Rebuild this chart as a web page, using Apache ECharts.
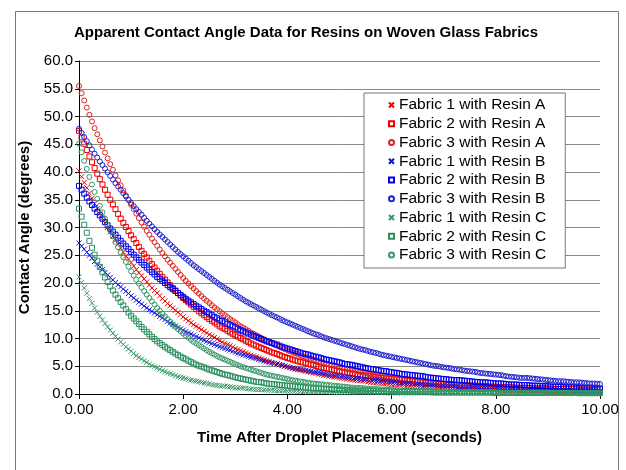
<!DOCTYPE html>
<html>
<head>
<meta charset="utf-8">
<script src="https://cdn.jsdelivr.net/npm/echarts@6/dist/echarts.min.js"></script>
<style>
html,body{margin:0;padding:0;background:#fff;}
#chart{width:626px;height:470px;}
</style>
</head>
<body>
<div id="chart"></div>
<script>
// Time axis (seconds), one reading every 0.05 s
const TIME = [];
for (let i = 0; i <= 200; i++) TIME.push(i / 20);

const SERIES_NAMES = [
  'Fabric 1 with Resin A','Fabric 2 with Resin A','Fabric 3 with Resin A',
  'Fabric 1 with Resin B','Fabric 2 with Resin B','Fabric 3 with Resin B',
  'Fabric 1 with Resin C','Fabric 2 with Resin C','Fabric 3 with Resin C'
];

// Contact angle (degrees), one row per second
const F1_RESIN_A = [
40.2,39.15,38.1,37.15,36.2,35.25,34.3,33.4,32.5,31.65,30.8,30.0,29.2,28.45,27.7,27.0,26.3,25.6,24.9,24.3,
23.7,23.05,22.4,21.85,21.3,20.75,20.2,19.65,19.1,18.65,18.2,17.7,17.2,16.75,16.3,15.9,15.5,15.1,14.7,14.3,
13.9,13.55,13.2,12.85,12.5,12.2,11.9,11.6,11.3,11.0,10.7,10.45,10.2,9.9,9.6,9.35,9.1,8.9,8.7,8.45,
8.2,8.0,7.8,7.6,7.4,7.2,7.0,6.85,6.7,6.5,6.3,6.15,6.0,5.85,5.7,5.55,5.4,5.25,5.1,5.0,
4.9,4.75,4.6,4.5,4.4,4.3,4.2,4.1,4.0,3.9,3.8,3.7,3.6,3.5,3.4,3.3,3.2,3.15,3.1,3.0,
2.9,2.85,2.8,2.7,2.6,2.55,2.5,2.45,2.4,2.35,2.3,2.2,2.1,2.05,2.0,1.95,1.9,1.85,1.8,1.75,
1.7,1.7,1.7,1.65,1.6,1.55,1.5,1.45,1.4,1.4,1.4,1.35,1.3,1.25,1.2,1.2,1.2,1.15,1.1,1.1,
1.1,1.05,1.0,1.0,1.0,0.95,0.9,0.9,0.9,0.85,0.8,0.8,0.8,0.8,0.8,0.75,0.7,0.7,0.7,0.7,
0.7,0.65,0.6,0.6,0.6,0.6,0.6,0.6,0.6,0.55,0.5,0.5,0.5,0.5,0.5,0.5,0.5,0.5,0.5,0.45,
0.4,0.4,0.4,0.4,0.4,0.4,0.4,0.4,0.4,0.4,0.4,0.35,0.3,0.3,0.3,0.3,0.3,0.3,0.3,0.3,
0.3];

const F2_RESIN_A = [
47.4,46.25,45.1,43.95,42.8,41.75,40.7,39.7,38.7,37.75,36.8,35.9,35.0,34.15,33.3,32.45,31.6,30.85,30.1,29.35,
28.6,27.9,27.2,26.5,25.8,25.2,24.6,24.0,23.4,22.8,22.2,21.65,21.1,20.6,20.1,19.6,19.1,18.65,18.2,17.75,
17.3,16.9,16.5,16.1,15.7,15.3,14.9,14.55,14.2,13.85,13.5,13.2,12.9,12.55,12.2,11.95,11.7,11.4,11.1,10.85,
10.6,10.35,10.1,9.85,9.6,9.35,9.1,8.9,8.7,8.5,8.3,8.1,7.9,7.7,7.5,7.35,7.2,7.0,6.8,6.65,
6.5,6.35,6.2,6.05,5.9,5.8,5.7,5.55,5.4,5.3,5.2,5.05,4.9,4.8,4.7,4.6,4.5,4.4,4.3,4.2,
4.1,4.0,3.9,3.85,3.8,3.7,3.6,3.5,3.4,3.35,3.3,3.25,3.2,3.1,3.0,2.95,2.9,2.85,2.8,2.75,
2.7,2.65,2.6,2.55,2.5,2.45,2.4,2.35,2.3,2.25,2.2,2.15,2.1,2.05,2.0,1.95,1.9,1.9,1.9,1.85,
1.8,1.75,1.7,1.7,1.7,1.65,1.6,1.6,1.6,1.55,1.5,1.5,1.5,1.45,1.4,1.4,1.4,1.35,1.3,1.3,
1.3,1.25,1.2,1.2,1.2,1.2,1.2,1.15,1.1,1.1,1.1,1.1,1.1,1.05,1.0,1.0,1.0,1.0,1.0,1.0,
1.0,0.95,0.9,0.9,0.9,0.9,0.9,0.9,0.9,0.9,0.9,0.85,0.8,0.8,0.8,0.8,0.8,0.8,0.8,0.8,
0.8];

const F3_RESIN_A = [
55.5,54.2,52.9,51.6,50.3,49.1,47.9,46.8,45.7,44.6,43.5,42.45,41.4,40.4,39.4,38.5,37.6,36.7,35.8,34.95,
34.1,33.3,32.5,31.7,30.9,30.15,29.4,28.7,28.0,27.35,26.7,26.05,25.4,24.8,24.2,23.65,23.1,22.55,22.0,21.45,
20.9,20.4,19.9,19.45,19.0,18.55,18.1,17.65,17.2,16.8,16.4,16.0,15.6,15.25,14.9,14.55,14.2,13.85,13.5,13.2,
12.9,12.55,12.2,11.95,11.7,11.4,11.1,10.85,10.6,10.35,10.1,9.85,9.6,9.35,9.1,8.9,8.7,8.5,8.3,8.1,
7.9,7.7,7.5,7.35,7.2,7.0,6.8,6.65,6.5,6.35,6.2,6.05,5.9,5.75,5.6,5.45,5.3,5.2,5.1,4.95,
4.8,4.7,4.6,4.5,4.4,4.3,4.2,4.1,4.0,3.9,3.8,3.7,3.6,3.5,3.4,3.35,3.3,3.2,3.1,3.05,
3.0,2.9,2.8,2.75,2.7,2.65,2.6,2.5,2.4,2.35,2.3,2.25,2.2,2.15,2.1,2.05,2.0,1.95,1.9,1.85,
1.8,1.75,1.7,1.7,1.7,1.65,1.6,1.55,1.5,1.45,1.4,1.4,1.4,1.35,1.3,1.25,1.2,1.2,1.2,1.15,
1.1,1.1,1.1,1.05,1.0,1.0,1.0,0.95,0.9,0.9,0.9,0.85,0.8,0.8,0.8,0.8,0.8,0.75,0.7,0.7,
0.7,0.7,0.7,0.65,0.6,0.6,0.6,0.6,0.6,0.55,0.5,0.5,0.5,0.5,0.5,0.5,0.5,0.45,0.4,0.4,
0.4];

const F1_RESIN_B = [
27.2,26.65,26.1,25.55,25.0,24.45,23.9,23.4,22.9,22.4,21.9,21.45,21.0,20.55,20.1,19.7,19.3,18.9,18.5,18.1,
17.7,17.3,16.9,16.55,16.2,15.85,15.5,15.2,14.9,14.6,14.3,14.0,13.7,13.4,13.1,12.8,12.5,12.25,12.0,11.75,
11.5,11.25,11.0,10.8,10.6,10.35,10.1,9.9,9.7,9.5,9.3,9.1,8.9,8.7,8.5,8.35,8.2,8.05,7.9,7.7,
7.5,7.35,7.2,7.05,6.9,6.75,6.6,6.5,6.4,6.25,6.1,5.95,5.8,5.7,5.6,5.5,5.4,5.3,5.2,5.05,
4.9,4.8,4.7,4.6,4.5,4.45,4.4,4.3,4.2,4.1,4.0,3.95,3.9,3.8,3.7,3.6,3.5,3.45,3.4,3.35,
3.3,3.2,3.1,3.05,3.0,2.95,2.9,2.85,2.8,2.75,2.7,2.65,2.6,2.55,2.5,2.45,2.4,2.35,2.3,2.25,
2.2,2.15,2.1,2.05,2.0,1.95,1.9,1.9,1.9,1.85,1.8,1.75,1.7,1.7,1.7,1.65,1.6,1.55,1.5,1.5,
1.5,1.45,1.4,1.4,1.4,1.35,1.3,1.3,1.3,1.25,1.2,1.2,1.2,1.15,1.1,1.1,1.1,1.1,1.1,1.05,
1.0,1.0,1.0,1.0,1.0,0.95,0.9,0.9,0.9,0.9,0.9,0.85,0.8,0.8,0.8,0.8,0.8,0.8,0.8,0.75,
0.7,0.7,0.7,0.7,0.7,0.7,0.7,0.7,0.7,0.65,0.6,0.6,0.6,0.6,0.6,0.6,0.6,0.6,0.6,0.55,
0.5];

const F2_RESIN_B = [
37.5,36.8,36.1,35.4,34.7,34.05,33.4,32.8,32.2,31.6,31.0,30.4,29.8,29.25,28.7,28.15,27.6,27.1,26.6,26.1,
25.6,25.1,24.6,24.15,23.7,23.25,22.8,22.4,22.0,21.55,21.1,20.75,20.4,20.0,19.6,19.25,18.9,18.55,18.2,17.85,
17.5,17.15,16.8,16.5,16.2,15.9,15.6,15.3,15.0,14.75,14.5,14.2,13.9,13.65,13.4,13.15,12.9,12.65,12.4,12.2,
12.0,11.75,11.5,11.3,11.1,10.9,10.7,10.5,10.3,10.1,9.9,9.7,9.5,9.35,9.2,9.05,8.9,8.7,8.5,8.35,
8.2,8.05,7.9,7.75,7.6,7.45,7.3,7.2,7.1,6.95,6.8,6.7,6.6,6.45,6.3,6.2,6.1,6.0,5.9,5.8,
5.7,5.55,5.4,5.35,5.3,5.2,5.1,5.0,4.9,4.8,4.7,4.6,4.5,4.45,4.4,4.3,4.2,4.15,4.1,4.0,
3.9,3.85,3.8,3.7,3.6,3.55,3.5,3.45,3.4,3.35,3.3,3.25,3.2,3.1,3.0,2.95,2.9,2.85,2.8,2.75,
2.7,2.65,2.6,2.55,2.5,2.5,2.5,2.45,2.4,2.35,2.3,2.25,2.2,2.15,2.1,2.1,2.1,2.05,2.0,1.95,
1.9,1.9,1.9,1.85,1.8,1.75,1.7,1.7,1.7,1.65,1.6,1.6,1.6,1.55,1.5,1.5,1.5,1.45,1.4,1.4,
1.4,1.35,1.3,1.3,1.3,1.25,1.2,1.2,1.2,1.2,1.2,1.15,1.1,1.1,1.1,1.1,1.1,1.05,1.0,1.0,
1.0];

const F3_RESIN_B = [
47.8,47.05,46.3,45.55,44.8,44.05,43.3,42.6,41.9,41.25,40.6,39.95,39.3,38.65,38.0,37.4,36.8,36.2,35.6,35.0,
34.4,33.85,33.3,32.8,32.3,31.75,31.2,30.7,30.2,29.7,29.2,28.75,28.3,27.85,27.4,26.95,26.5,26.05,25.6,25.2,
24.8,24.4,24.0,23.6,23.2,22.85,22.5,22.15,21.8,21.45,21.1,20.75,20.4,20.05,19.7,19.4,19.1,18.8,18.5,18.2,
17.9,17.6,17.3,17.0,16.7,16.45,16.2,15.95,15.7,15.45,15.2,14.95,14.7,14.45,14.2,14.0,13.8,13.55,13.3,13.1,
12.9,12.7,12.5,12.3,12.1,11.9,11.7,11.5,11.3,11.1,10.9,10.75,10.6,10.4,10.2,10.05,9.9,9.75,9.6,9.45,
9.3,9.15,9.0,8.85,8.7,8.55,8.4,8.25,8.1,8.0,7.9,7.75,7.6,7.5,7.4,7.25,7.1,7.0,6.9,6.8,
6.7,6.6,6.5,6.4,6.3,6.2,6.1,6.0,5.9,5.8,5.7,5.6,5.5,5.4,5.3,5.2,5.1,5.05,5.0,4.9,
4.8,4.75,4.7,4.6,4.5,4.45,4.4,4.3,4.2,4.15,4.1,4.05,4.0,3.9,3.8,3.75,3.7,3.65,3.6,3.55,
3.5,3.45,3.4,3.3,3.2,3.15,3.1,3.05,3.0,2.95,2.9,2.9,2.9,2.85,2.8,2.75,2.7,2.65,2.6,2.55,
2.5,2.45,2.4,2.35,2.3,2.3,2.3,2.25,2.2,2.15,2.1,2.1,2.1,2.05,2.0,1.95,1.9,1.9,1.9,1.85,
1.8];

const F1_RESIN_C = [
21.1,20.1,19.1,18.15,17.2,16.35,15.5,14.75,14.0,13.35,12.7,12.1,11.5,10.95,10.4,9.9,9.4,8.95,8.5,8.1,
7.7,7.3,6.9,6.6,6.3,6.0,5.7,5.4,5.1,4.9,4.7,4.45,4.2,4.0,3.8,3.65,3.5,3.3,3.1,3.0,
2.9,2.75,2.6,2.5,2.4,2.3,2.2,2.1,2.0,1.9,1.8,1.7,1.6,1.55,1.5,1.45,1.4,1.35,1.3,1.2,
1.1,1.1,1.1,1.05,1.0,0.95,0.9,0.85,0.8,0.8,0.8,0.75,0.7,0.7,0.7,0.65,0.6,0.6,0.6,0.55,
0.5,0.5,0.5,0.5,0.5,0.45,0.4,0.4,0.4,0.4,0.4,0.4,0.4,0.4,0.4,0.4,0.4,0.35,0.3,0.3,
0.3,0.3,0.3,0.3,0.3,0.3,0.3,0.3,0.3,0.3,0.3,0.3,0.3,0.3,0.3,0.3,0.3,0.25,0.2,0.2,
0.2,0.2,0.2,0.2,0.2,0.2,0.2,0.2,0.2,0.2,0.2,0.2,0.2,0.2,0.2,0.2,0.2,0.2,0.2,0.2,
0.2,0.2,0.2,0.2,0.2,0.2,0.2,0.2,0.2,0.2,0.2,0.2,0.2,0.2,0.2,0.2,0.2,0.2,0.2,0.2,
0.2,0.2,0.2,0.2,0.2,0.2,0.2,0.2,0.2,0.2,0.2,0.2,0.2,0.2,0.2,0.2,0.2,0.2,0.2,0.2,
0.2,0.2,0.2,0.2,0.2,0.2,0.2,0.2,0.2,0.2,0.2,0.2,0.2,0.2,0.2,0.2,0.2,0.2,0.2,0.2,
0.2];

const F2_RESIN_C = [
33.4,31.95,30.5,29.05,27.6,26.35,25.1,24.0,22.9,21.95,21.0,20.2,19.4,18.65,17.9,17.25,16.6,15.95,15.3,14.7,
14.1,13.6,13.1,12.6,12.1,11.65,11.2,10.75,10.3,9.9,9.5,9.15,8.8,8.5,8.2,7.9,7.6,7.3,7.0,6.75,
6.5,6.25,6.0,5.75,5.5,5.3,5.1,4.95,4.8,4.6,4.4,4.25,4.1,3.95,3.8,3.65,3.5,3.4,3.3,3.15,
3.0,2.9,2.8,2.7,2.6,2.5,2.4,2.3,2.2,2.15,2.1,2.0,1.9,1.85,1.8,1.75,1.7,1.65,1.6,1.55,
1.5,1.45,1.4,1.35,1.3,1.25,1.2,1.15,1.1,1.05,1.0,1.0,1.0,0.95,0.9,0.9,0.9,0.85,0.8,0.8,
0.8,0.75,0.7,0.7,0.7,0.65,0.6,0.6,0.6,0.6,0.6,0.6,0.6,0.55,0.5,0.5,0.5,0.5,0.5,0.5,
0.5,0.45,0.4,0.4,0.4,0.4,0.4,0.4,0.4,0.4,0.4,0.4,0.4,0.4,0.4,0.35,0.3,0.3,0.3,0.3,
0.3,0.3,0.3,0.3,0.3,0.3,0.3,0.3,0.3,0.3,0.3,0.3,0.3,0.3,0.3,0.3,0.3,0.3,0.3,0.25,
0.2,0.2,0.2,0.2,0.2,0.2,0.2,0.2,0.2,0.2,0.2,0.2,0.2,0.2,0.2,0.2,0.2,0.2,0.2,0.2,
0.2,0.2,0.2,0.2,0.2,0.2,0.2,0.2,0.2,0.2,0.2,0.2,0.2,0.2,0.2,0.2,0.2,0.2,0.2,0.2,
0.2];

const F3_RESIN_C = [
45.1,43.55,42.0,40.55,39.1,37.75,36.4,35.15,33.9,32.75,31.6,30.5,29.4,28.4,27.4,26.45,25.5,24.65,23.8,22.95,
22.1,21.35,20.6,19.9,19.2,18.55,17.9,17.3,16.7,16.1,15.5,15.0,14.5,14.0,13.5,13.0,12.5,12.1,11.7,11.3,
10.9,10.5,10.1,9.75,9.4,9.1,8.8,8.5,8.2,7.9,7.6,7.35,7.1,6.85,6.6,6.4,6.2,6.0,5.8,5.6,
5.4,5.2,5.0,4.85,4.7,4.55,4.4,4.25,4.1,3.95,3.8,3.65,3.5,3.4,3.3,3.2,3.1,3.0,2.9,2.8,
2.7,2.6,2.5,2.4,2.3,2.25,2.2,2.1,2.0,1.95,1.9,1.85,1.8,1.75,1.7,1.65,1.6,1.55,1.5,1.45,
1.4,1.35,1.3,1.25,1.2,1.15,1.1,1.1,1.1,1.05,1.0,0.95,0.9,0.9,0.9,0.85,0.8,0.8,0.8,0.75,
0.7,0.7,0.7,0.65,0.6,0.6,0.6,0.6,0.6,0.55,0.5,0.5,0.5,0.5,0.5,0.5,0.5,0.45,0.4,0.4,
0.4,0.4,0.4,0.4,0.4,0.35,0.3,0.3,0.3,0.3,0.3,0.3,0.3,0.3,0.3,0.3,0.3,0.3,0.3,0.3,
0.3,0.25,0.2,0.2,0.2,0.2,0.2,0.2,0.2,0.2,0.2,0.2,0.2,0.2,0.2,0.2,0.2,0.2,0.2,0.2,
0.2,0.2,0.2,0.2,0.2,0.2,0.2,0.2,0.2,0.2,0.2,0.15,0.1,0.1,0.1,0.1,0.1,0.1,0.1,0.1,
0.1];

const X_TICKS = [0, 2, 4, 6, 8, 10];
const Y_TICKS = [0, 5, 10, 15, 20, 25, 30, 35, 40, 45, 50, 55, 60];

const VALUES = [F1_RESIN_A, F2_RESIN_A, F3_RESIN_A, F1_RESIN_B, F2_RESIN_B, F3_RESIN_B, F1_RESIN_C, F2_RESIN_C, F3_RESIN_C];
const COLORS = ['#ee0000','#ee0000','#dd2222','#1010dd','#0000ee','#2222cc','#339966','#2a9060','#339966'];
const CROSS = 'path://M0,0L10,10M10,0L0,10';
const SYMBOLS = [CROSS,'rect','circle',CROSS,'rect','circle',CROSS,'rect','circle'];

const FONT = '"Liberation Sans", Arial, sans-serif';

const series = VALUES.map((vals, k) => ({
  name: SERIES_NAMES[k],
  type: 'scatter',
  symbol: SYMBOLS[k],
  symbolSize: 5,
  data: TIME.map((t, i) => [t, vals[i]]),
  itemStyle: { color: 'rgba(0,0,0,0)', borderColor: COLORS[k], borderWidth: 1, opacity: 1 },
  emphasis: { disabled: true },
  z: 2 + k
}));

const chart = echarts.init(document.getElementById('chart'), null, { renderer: 'canvas' });
chart.setOption({
  animation: false,
  backgroundColor: '#fff',
  title: {
    text: 'Apparent Contact Angle Data for Resins on Woven Glass Fabrics',
    left: 301, top: 20, textAlign: 'center',
    textStyle: { fontFamily: FONT, fontSize: 15, fontWeight: 'bold', color: '#000' }
  },
  graphic: [{
    type: 'rect', left: 13, top: 9, z: -1,
    shape: { width: 603, height: 470 },
    style: { fill: 'none', stroke: '#777', lineWidth: 1 }
  }],
  legend: {
    orient: 'vertical',
    left: 364, top: 93,
    padding: [3, 19, 4, 24],
    itemWidth: 5, itemHeight: 5,
    itemGap: 0.75,
    backgroundColor: '#fff',
    borderColor: '#777', borderWidth: 1,
    textStyle: { fontFamily: FONT, fontSize: 15.5, color: '#000', lineHeight: 18 },
    data: SERIES_NAMES
  },
  grid: { left: 79, right: 26, top: 61, bottom: 76, containLabel: false },
  xAxis: {
    type: 'value', min: 0, max: 10, interval: 2,
    name: 'Time After Droplet Placement (seconds)',
    nameLocation: 'middle', nameGap: 36,
    nameTextStyle: { fontFamily: FONT, fontSize: 15, fontWeight: 'bold', color: '#000' },
    axisLine: { onZero: false, lineStyle: { color: '#000', width: 1 } },
    axisTick: { show: true, inside: false, length: 5, lineStyle: { color: '#000' } },
    axisLabel: { fontFamily: FONT, fontSize: 15, color: '#000', margin: 8,
      formatter: v => X_TICKS.includes(v) ? v.toFixed(2) : '' },
    splitLine: { show: false }
  },
  yAxis: {
    type: 'value', min: 0, max: 60, interval: 5,
    name: 'Contact Angle (degrees)',
    nameLocation: 'middle', nameGap: 47,
    nameTextStyle: { fontFamily: FONT, fontSize: 15, fontWeight: 'bold', color: '#000' },
    axisLine: { show: true, lineStyle: { color: '#000', width: 1 } },
    axisTick: { show: true, inside: false, length: 4, lineStyle: { color: '#000' } },
    axisLabel: { fontFamily: FONT, fontSize: 15, color: '#000', margin: 6,
      formatter: v => Y_TICKS.includes(v) ? v.toFixed(1) : '' },
    splitLine: { show: true, lineStyle: { color: '#888', width: 1 } }
  },
  series: series
});
</script>
</body>
</html>
